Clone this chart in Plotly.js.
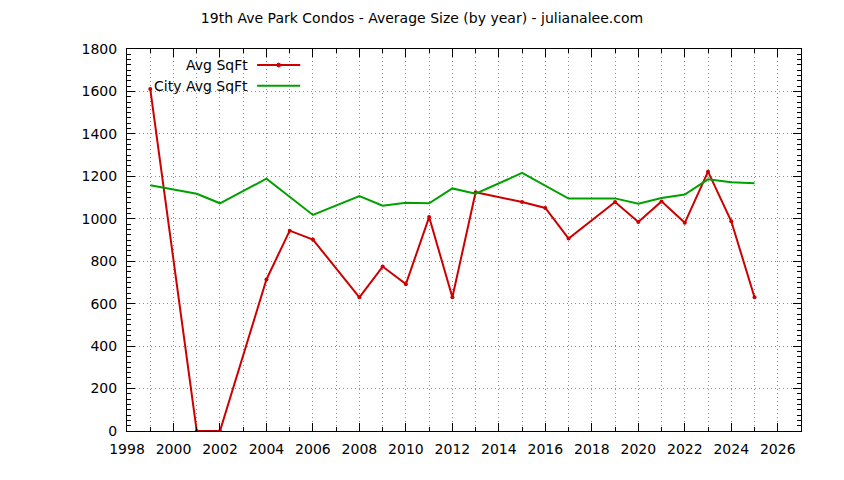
<!DOCTYPE html>
<html>
<head>
<meta charset="utf-8">
<script src="https://cdn.plot.ly/plotly-3.0.1.min.js"></script>
<style>
  body { margin: 0; background: #fff; }
  #graf { width: 844px; height: 480px; }
</style>
</head>
<body>
<div id="graf"></div>
<script>
// roky a priemerne velkosti (sqft)
var rokyByt = [1999, 2001, 2002, 2004, 2005, 2006, 2008, 2009, 2010, 2011, 2012, 2013, 2015, 2016, 2017, 2019, 2020, 2021, 2022, 2023, 2024, 2025];
var avgSqFt = [1612, 0, 0, 714, 944, 902, 630, 775, 692, 1008, 630, 1125, 1079, 1051, 907, 1079, 985, 1082, 981, 1222, 988, 630];

var rokyMesto = [1999, 2001, 2002, 2004, 2006, 2008, 2009, 2010, 2011, 2012, 2013, 2015, 2017, 2019, 2020, 2021, 2022, 2023, 2024, 2025];
var cityAvgSqFt = [1158, 1118, 1073, 1189, 1018, 1107, 1062, 1076, 1073, 1143, 1118, 1216, 1095, 1096, 1071, 1098, 1114, 1186, 1172, 1167];

var nazvy = ['Avg SqFt', 'City Avg SqFt'];
var farby = ['#cc0000', '#00a000'];

var pismo = 'DejaVu Sans, Verdana, sans-serif';
var mriezka = '#8c8c8c';

function nakresliGraf() {
    var trace1 = {
        x: rokyByt,
        y: avgSqFt,
        type: 'scatter',
        mode: 'lines+markers',
        name: nazvy[0],
        line: { color: farby[0], width: 2 },
        marker: { color: farby[0], size: 4, symbol: 'circle' },
        showlegend: false
    };

    var trace2 = {
        x: rokyMesto,
        y: cityAvgSqFt,
        type: 'scatter',
        mode: 'lines',
        name: nazvy[1],
        line: { color: farby[1], width: 2 },
        showlegend: false
    };

    // vlastna legenda: text vlavo, ciara vpravo (ako gnuplot)
    var riadky = [0.958, 0.904];
    var anotacie = [];
    var tvary = [];
    for (var i = 0; i < nazvy.length; i++) {
        anotacie.push({
            xref: 'paper', yref: 'paper',
            x: 0.183, y: riadky[i],
            xanchor: 'right', yanchor: 'middle',
            text: nazvy[i], showarrow: false,
            font: { family: pismo, size: 14, color: '#000' }
        });
        tvary.push({
            type: 'line', xref: 'paper', yref: 'paper',
            x0: 0.193, x1: 0.257, y0: riadky[i], y1: riadky[i],
            line: { color: farby[i], width: 2 }
        });
    }
    tvary.push({
        type: 'circle', xref: 'paper', yref: 'paper',
        x0: 0.222, x1: 0.228, y0: riadky[0] - 0.005, y1: riadky[0] + 0.005,
        fillcolor: farby[0], line: { color: farby[0], width: 1 }
    });

    var layout = {
        width: 844,
        height: 480,
        margin: { l: 127, r: 43, t: 49, b: 49 },
        paper_bgcolor: '#fff',
        plot_bgcolor: '#fff',
        font: { family: pismo, size: 14, color: '#000' },
        title: {
            text: '19th Ave Park Condos - Average Size (by year) - julianalee.com',
            font: { family: pismo, size: 14, color: '#000' },
            x: 0.5, xref: 'container', xanchor: 'center', y: 0.962, yanchor: 'middle'
        },
        xaxis: {
            range: [1998, 2027],
            dtick: 2, tick0: 1998,
            ticks: 'inside', ticklen: 8, tickcolor: '#000',
            showline: true, linecolor: '#000', linewidth: 1,
            mirror: 'allticks',
            showgrid: true, gridcolor: mriezka, griddash: '1px,3px', gridwidth: 1,
            zeroline: false,
            ticklabelstandoff: 5,
            minor: { dtick: 1, ticks: 'inside', ticklen: 4, tickcolor: '#000', showgrid: true, gridcolor: mriezka, griddash: '1px,3px' },
            tickfont: { family: pismo, size: 14, color: '#000' }
        },
        yaxis: {
            range: [0, 1800],
            dtick: 200, tick0: 0,
            ticks: 'inside', ticklen: 8, tickcolor: '#000',
            showline: true, linecolor: '#000', linewidth: 1,
            mirror: 'allticks',
            showgrid: true, gridcolor: mriezka, griddash: '1px,3px', gridwidth: 1,
            zeroline: false,
            ticklabelstandoff: 6,
            minor: { dtick: 25, ticks: 'inside', ticklen: 4, tickcolor: '#000', showgrid: false },
            tickfont: { family: pismo, size: 14, color: '#000' }
        },
        annotations: anotacie,
        shapes: tvary
    };

    Plotly.newPlot('graf', [trace1, trace2], layout, { displayModeBar: false, staticPlot: true });
}

nakresliGraf();
</script>
</body>
</html>
